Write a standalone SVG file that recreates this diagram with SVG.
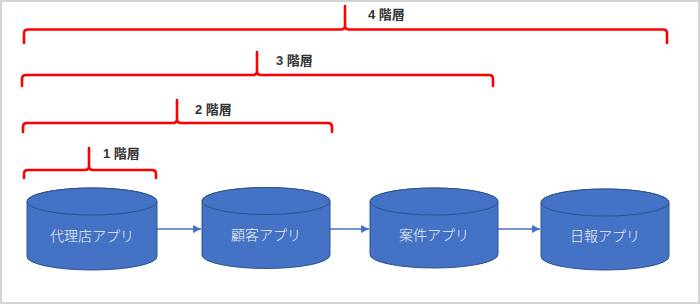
<svg xmlns="http://www.w3.org/2000/svg" width="700" height="304" viewBox="0 0 700 304">
<defs>
<style>
.frame{fill:#fff;stroke:#d4d4d4;stroke-width:2}
.br{fill:none;stroke:#ff0000;stroke-width:2.6;stroke-linecap:round;stroke-linejoin:round}
.blabel{font-family:"Liberation Sans","Noto Sans CJK JP",sans-serif;font-size:13px;font-weight:bold;fill:#333333;dominant-baseline:central}
.cyl{fill:#4472c4;stroke:#2f528f;stroke-width:1}
.clabel{font-family:"Noto Sans CJK JP",sans-serif;font-size:14px;font-weight:300;fill:#f2f2f2;text-anchor:middle;dominant-baseline:central}
.conn{fill:none;stroke:#4472c4;stroke-width:1.5}
</style>
<marker id="ah" viewBox="0 0 10 10" refX="10" refY="5" markerWidth="5.5" markerHeight="5.5" orient="auto" markerUnits="strokeWidth">
<path d="M0,0 L10,5 L0,10 z" fill="#4472c4"/>
</marker>
</defs>
<rect class="frame" x="1" y="1" width="698" height="302"/>
<g id="bracket4">
<path class="br" d="M24,43 V33.5 Q24,29.5 28,29.5 H341 Q345,29.5 345,25.5 V6 M345,25.5 Q345,29.5 349,29.5 H663 Q667,29.5 667,33.5 V43"/>
<text class="blabel" x="368" y="14">4 階層</text>
</g>
<g id="bracket3">
<path class="br" d="M22,86 V79 Q22,75 26,75 H253 Q257,75 257,71 V52 M257,71 Q257,75 261,75 H489 Q493,75 493,79 V86"/>
<text class="blabel" x="276" y="60">3 階層</text>
</g>
<g id="bracket2">
<path class="br" d="M23,132 V127 Q23,123 27,123 H173 Q177,123 177,119 V100 M177,119 Q177,123 181,123 H328 Q332,123 332,127 V132"/>
<text class="blabel" x="195" y="109">2 階層</text>
</g>
<g id="bracket1">
<path class="br" d="M24,178 V174 Q24,170 28,170 H85 Q89,170 89,166 V148 M89,166 Q89,170 93,170 H152 Q156,170 156,174 V178"/>
<text class="blabel" x="103" y="153">1 階層</text>
</g>
<g id="connectors">
<line class="conn" x1="157" y1="229" x2="201" y2="229" marker-end="url(#ah)"/>
<line class="conn" x1="330" y1="229" x2="369" y2="229" marker-end="url(#ah)"/>
<line class="conn" x1="498" y1="229" x2="540" y2="229" marker-end="url(#ah)"/>
</g>
<g id="node-dairiten">
<path class="cyl" d="M27,201.5 V256.5 A65,13.5 0 0 0 157,256.5 V201.5 A65,13.5 0 0 0 27,201.5 Z"/>
<ellipse class="cyl" cx="92" cy="201.5" rx="65" ry="13.5"/>
<text class="clabel" x="92" y="235">代理店アプリ</text>
</g>
<g id="node-kokyaku">
<path class="cyl" d="M202,201 V255 A64,13.5 0 0 0 330,255 V201 A64,13.5 0 0 0 202,201 Z"/>
<ellipse class="cyl" cx="266" cy="201" rx="64" ry="13.5"/>
<text class="clabel" x="266" y="234">顧客アプリ</text>
</g>
<g id="node-anken">
<path class="cyl" d="M370,201.5 V254.5 A64,13.5 0 0 0 498,254.5 V201.5 A64,13.5 0 0 0 370,201.5 Z"/>
<ellipse class="cyl" cx="434" cy="201.5" rx="64" ry="13.5"/>
<text class="clabel" x="434" y="234">案件アプリ</text>
</g>
<g id="node-nippo">
<path class="cyl" d="M541,202.5 V256.5 A64,13.5 0 0 0 669,256.5 V202.5 A64,13.5 0 0 0 541,202.5 Z"/>
<ellipse class="cyl" cx="605" cy="202.5" rx="64" ry="13.5"/>
<text class="clabel" x="605" y="235">日報アプリ</text>
</g>
</svg>
